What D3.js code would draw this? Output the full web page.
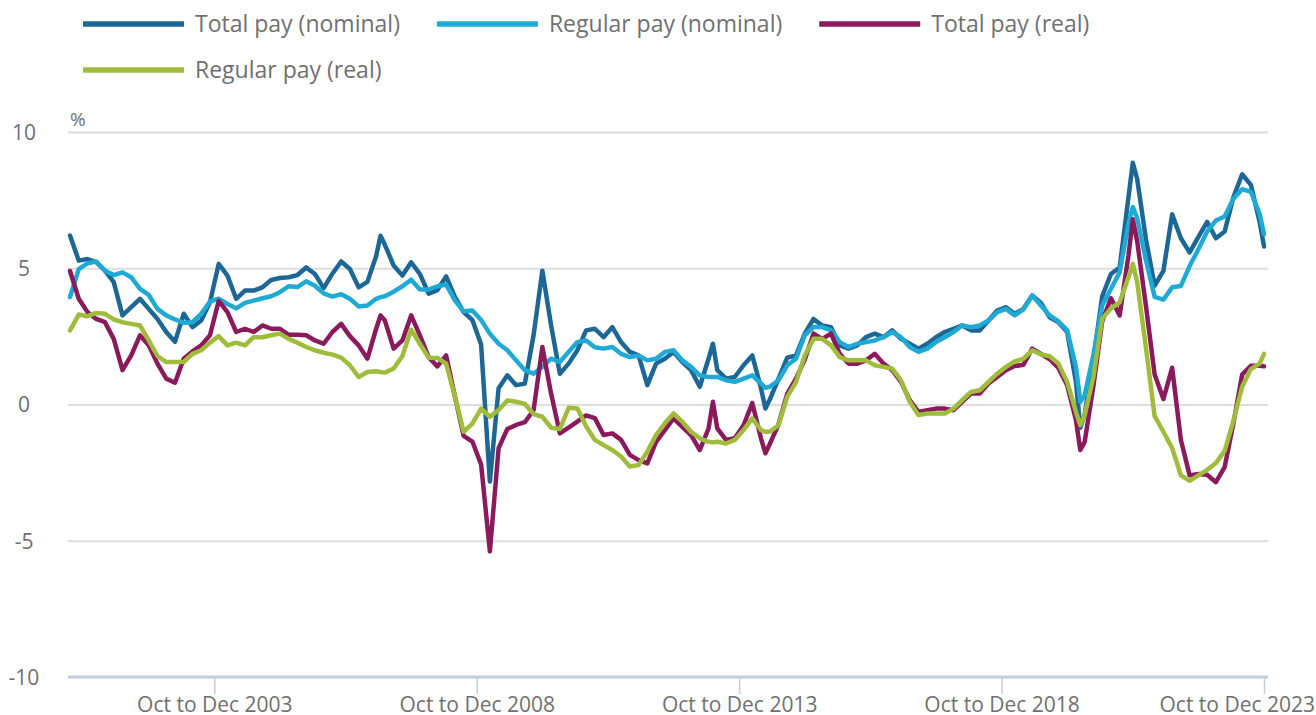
<!DOCTYPE html>
<html>
<head>
<meta charset="utf-8">
<script src="https://cdn.jsdelivr.net/npm/d3@7"></script>
<style>
  body { margin: 0; background: #ffffff; }
  text { font-family: "Open Sans", sans-serif; fill: #707070; }
</style>
</head>
<body>
<div id="chart"></div>
<script>
// months counted from Jan to Mar 2001 (0) up to Oct to Dec 2023 (273)
// every second month, plus a few extra months where spikes sit
var monthIdx = d3.range(0, 274, 2).concat([71, 147, 159, 231, 243, 273]).sort(d3.ascending);

var totalNominal = [
    6.2, 5.28, 5.34, 5.22, 4.91, 4.49, 3.27, 3.57, 3.88, 3.51, 3.14, 2.66, 2.3, 3.33, 2.84, 3.08, 3.75, 5.16, 4.73, 3.88, 4.18, 4.18, 4.3,
    4.57, 4.64, 4.67, 4.75, 5.03, 4.79, 4.27, 4.8, 5.25, 4.97, 4.3, 4.5, 5.45, 6.19,
    5.86, 5.1, 4.73, 5.22, 4.79, 4.07, 4.2, 4.7, 3.95, 3.39, 3.1, 2.2,
    -2.83, 0.6, 1.07, 0.71, 0.77, 2.55, 4.91, 2.9, 1.13, 1.5, 1.99, 2.72,
    2.78, 2.47, 2.84, 2.29, 1.93, 1.8, 0.71, 1.5, 1.68, 1.93, 1.56, 1.26, 0.65, 1.68, 2.23,
    1.26, 0.95, 1.01, 1.44, 1.8, 0.59, -0.15, 0.18, 0.95, 1.72, 1.8, 2.6, 3.14,
    2.9, 2.84, 2.17, 2.05, 2.17, 2.47, 2.6, 2.47, 2.72, 2.41, 2.23, 2.05, 2.23, 2.47, 2.66, 2.78, 2.9, 2.72, 2.72, 3.08, 3.45, 3.57,
    3.33, 3.51, 4.0, 3.73, 3.2, 3.02, 2.66, 0.83, -0.85,
    -0.37, 1.66, 3.97, 4.79, 5.03, 7.59, 8.87,
    8.28, 6.07, 4.36, 4.9, 6.98, 6.1, 5.58, 6.15, 6.7, 6.1, 6.35, 7.6, 8.45, 8.06, 6.7, 5.8
];

var regularNominal = [
    3.94, 4.97, 5.18, 5.25, 4.91, 4.75, 4.85, 4.67, 4.24, 4.02, 3.51, 3.27, 3.12, 3.0, 3.02, 3.33, 3.78, 3.88, 3.69, 3.53, 3.73, 3.81, 3.9,
    3.97, 4.12, 4.34, 4.31, 4.52, 4.36, 4.08, 3.96, 4.05, 3.88, 3.6, 3.63, 3.88, 3.94,
    3.97, 4.14, 4.34, 4.58, 4.22, 4.22, 4.34, 4.4, 3.82, 3.42, 3.45, 3.1,
    2.6, 2.23, 1.99, 1.62, 1.26, 1.13, 1.38, 1.68, 1.56, 1.93, 2.29, 2.35,
    2.1, 2.05, 2.11, 1.86, 1.74, 1.8, 1.62, 1.68, 1.93, 1.99, 1.62, 1.38, 1.07, 1.01, 1.01,
    1.01, 0.89, 0.83, 0.95, 1.07, 0.77, 0.61, 0.65, 0.89, 1.44, 1.68, 2.54, 2.84,
    2.84, 2.72, 2.29, 2.11, 2.23, 2.29, 2.35, 2.47, 2.66, 2.47, 2.11, 1.93, 2.05, 2.29, 2.47, 2.66, 2.9, 2.84, 2.9, 3.08, 3.39, 3.51,
    3.27, 3.49, 4.0, 3.63, 3.27, 3.05, 2.72, 1.38, 0.1,
    0.34, 1.83, 3.63, 4.24, 4.85, 6.62, 7.25,
    6.85, 5.3, 3.95, 3.85, 4.3, 4.35, 5.08, 5.7, 6.35, 6.75, 6.9, 7.55, 7.9, 7.8, 7.0, 6.25
];

var totalReal = [
    4.9, 3.88, 3.39, 3.14, 3.02, 2.41, 1.26, 1.8, 2.54, 2.17, 1.5, 0.95, 0.8, 1.68, 1.95, 2.17, 2.54, 3.8, 3.39, 2.66, 2.78, 2.66, 2.9,
    2.78, 2.78, 2.56, 2.56, 2.54, 2.35, 2.23, 2.66, 2.96, 2.51, 2.17, 1.68, 2.78, 3.27,
    3.08, 2.05, 2.35, 3.27, 2.54, 1.74, 1.4, 1.8, 0.3, -1.15, -1.36, -2.2,
    -5.39, -1.6, -0.9, -0.75, -0.65, -0.2, 2.11, 0.4, -1.06, -0.85, -0.63, -0.4,
    -0.5, -1.12, -1.06, -1.3, -1.85, -2.04, -2.16, -1.37, -0.94, -0.51, -0.82, -1.12, -1.67, -0.88, 0.1,
    -0.88, -1.3, -1.24, -0.76, 0.05, -1.25, -1.79, -1.45, -0.73, 0.4, 0.95, 1.65, 2.6,
    2.41, 2.6, 1.86, 1.5, 1.5, 1.62, 1.86, 1.5, 1.26, 0.83, 0.16, -0.27, -0.21, -0.15, -0.15, -0.21, 0.1, 0.4, 0.4, 0.77, 1.01, 1.26,
    1.41, 1.46, 2.05, 1.86, 1.66, 1.34, 0.71, -0.57, -1.67,
    -1.37, 0.68, 3.05, 3.9, 3.27, 5.46, 6.8,
    6.0, 3.63, 1.1, 0.2, 1.35, -1.3, -2.6, -2.55, -2.58, -2.85, -2.3, -0.7, 1.1, 1.42, 1.42, 1.4
];

var regularReal = [
    2.72, 3.3, 3.24, 3.36, 3.33, 3.12, 3.02, 2.96, 2.9, 2.35, 1.78, 1.56, 1.56, 1.56, 1.86, 1.99, 2.27, 2.51, 2.17, 2.27, 2.17, 2.47, 2.47,
    2.54, 2.6, 2.41, 2.27, 2.11, 1.99, 1.9, 1.83, 1.72, 1.44, 1.01, 1.19, 1.22, 1.19,
    1.17, 1.32, 1.78, 2.75, 2.23, 1.72, 1.71, 1.5, 0.3, -1.0, -0.7, -0.15,
    -0.45, -0.2, 0.15, 0.1, 0.02, -0.35, -0.45, -0.85, -0.9, -0.12, -0.15, -0.8,
    -1.3, -1.49, -1.67, -1.91, -2.28, -2.22, -1.73, -1.12, -0.69, -0.33, -0.63, -1.0, -1.24, -1.37, -1.39,
    -1.37, -1.43, -1.3, -0.94, -0.51, -0.94, -1.0, -1.0, -0.76, 0.29, 0.82, 1.8, 2.41,
    2.41, 2.17, 1.74, 1.62, 1.62, 1.62, 1.44, 1.38, 1.32, 0.89, 0.1, -0.39, -0.33, -0.33, -0.33, -0.15, 0.16, 0.46, 0.52, 0.83, 1.13, 1.38,
    1.58, 1.68, 1.99, 1.84, 1.77, 1.5, 0.83, -0.27, -0.76,
    -0.39, 1.02, 3.14, 3.53, 3.75, 4.67, 5.16,
    4.5, 2.1, -0.43, -1.0, -1.6, -2.6, -2.8, -2.6, -2.4, -2.15, -1.7, -0.6, 0.65, 1.3, 1.5, 1.86
];

var seriesNames = ["Total pay (nominal)", "Regular pay (nominal)", "Total pay (real)", "Regular pay (real)"];
var seriesColors = ["#1d6796", "#1faad5", "#8b1a5d", "#9fbc3b"];
var seriesValues = [totalNominal, regularNominal, totalReal, regularReal];

var yTicks = [10, 5, 0, -5, -10];
var xTickMonths = [33, 93, 153, 213, 273];
var xTickLabels = ["Oct to Dec 2003", "Oct to Dec 2008", "Oct to Dec 2013", "Oct to Dec 2018", "Oct to Dec 2023"];

// svg size and plot box
var svgWidth = 1316;
var svgHeight = 715;
var plot = { left: 70, right: 1264, top: 132, bottom: 677 };
var axisFont = 21;
var legendFont = 23;

var svg = d3.select("#chart").append("svg")
    .attr("width", svgWidth)
    .attr("height", svgHeight);

var x = d3.scaleLinear().domain([0, 273]).range([plot.left, plot.right]);
var y = d3.scaleLinear().domain([-10, 10]).range([plot.bottom, plot.top]);

// gridlines and y labels
var yAxis = svg.append("g")
    .attr("transform", `translate(${plot.left - 2},0)`)
    .call(d3.axisLeft(y).tickValues(yTicks).tickSize(-(plot.right - plot.left + 6)).tickFormat(d => String(d)));
yAxis.attr("font-size", null).attr("font-family", null);
yAxis.select(".domain").remove();
yAxis.selectAll(".tick line").attr("stroke", "#dedede").attr("stroke-width", 2);
yAxis.selectAll(".tick text")
    .attr("x", -44)
    .attr("dy", "0.35em")
    .attr("text-anchor", "middle")
    .attr("fill", "#707070")
    .style("font-size", axisFont + "px");

svg.append("text")
    .attr("x", plot.left)
    .attr("y", plot.top - 6)
    .style("font-size", "19px")
    .text("%");

// x axis along the bottom
var xAxis = svg.append("g")
    .attr("transform", `translate(0,${plot.bottom})`)
    .call(d3.axisBottom(x).tickValues(xTickMonths).tickSize(17).tickSizeOuter(0)
        .tickFormat((d, i) => xTickLabels[i]));
xAxis.attr("font-size", null).attr("font-family", null);
xAxis.select(".domain").remove();
xAxis.append("line")
    .attr("x1", plot.left - 2)
    .attr("x2", plot.right + 4)
    .attr("stroke", "#c3cfdc")
    .attr("stroke-width", 3);
xAxis.selectAll(".tick line").attr("stroke", "#c3cfdc").attr("stroke-width", 1.5);
xAxis.selectAll(".tick text")
    .attr("fill", "#707070")
    .style("font-size", axisFont + "px")
    .each(function () {
        // keep the last label inside the window
        var w = this.getComputedTextLength();
        var cx = +d3.select(this.parentNode).attr("transform").match(/translate\(([^,]+)/)[1];
        var over = cx + w / 2 - (svgWidth - 1);
        if (over > 0) d3.select(this).attr("x", -over);
    });

// series lines
var line = d3.line()
    .x((d, i) => x(monthIdx[i]))
    .y(d => y(d));

svg.append("g").selectAll("path")
    .data(seriesValues)
    .join("path")
    .attr("d", line)
    .attr("fill", "none")
    .attr("stroke", (d, i) => seriesColors[i])
    .attr("stroke-width", 4.5)
    .attr("stroke-linejoin", "round")
    .attr("stroke-linecap", "round");

// legend, wraps onto a second row
var legend = svg.append("g");
var lx = 83;
var ly = 24;
seriesNames.forEach(function (name, i) {
    var item = legend.append("g");
    item.append("line")
        .attr("x1", 0).attr("x2", 101)
        .attr("stroke", seriesColors[i])
        .attr("stroke-width", 5.5);
    var t = item.append("text")
        .attr("x", 112)
        .attr("dy", "0.33em")
        .style("font-size", legendFont + "px")
        .text(name);
    var w = 112 + t.node().getComputedTextLength();
    if (lx + w > 1290) { lx = 83; ly += 46; }
    item.attr("transform", `translate(${lx},${ly})`);
    lx += w + 37;
});
</script>
</body>
</html>
